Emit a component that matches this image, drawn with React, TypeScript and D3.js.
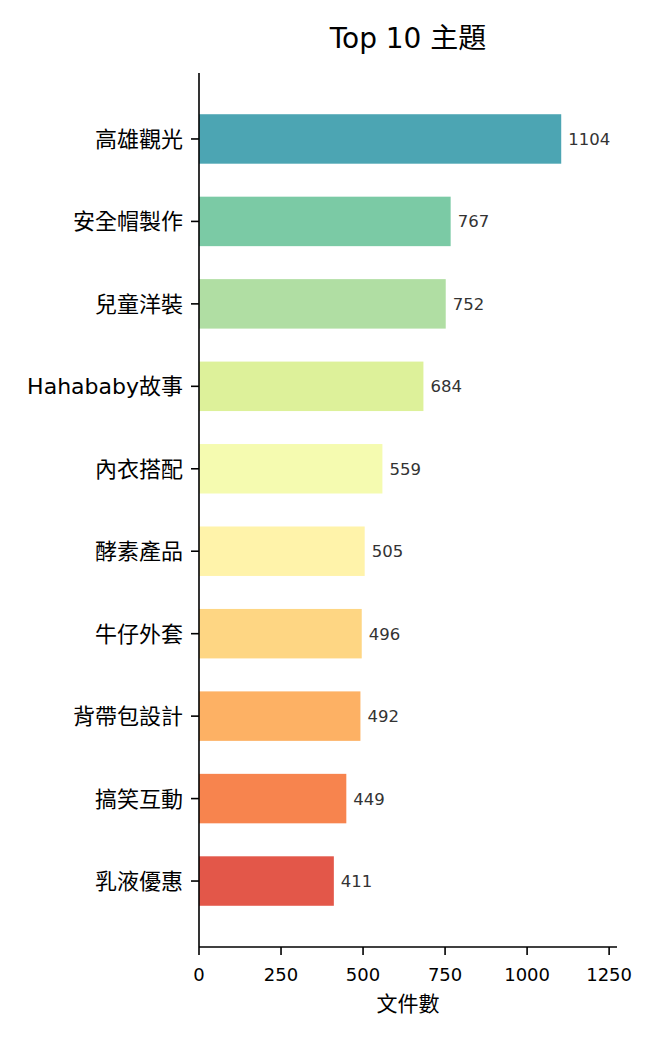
import React from "react";
import * as d3 from "d3";

const categories = ["高雄觀光", "安全帽製作", "兒童洋裝", "Hahababy故事", "內衣搭配", "酵素產品", "牛仔外套", "背帶包設計", "搞笑互動", "乳液優惠"];
const values = [1104, 767, 752, 684, 559, 505, 496, 492, 449, 411];
const barColors = ["#4ca5b3", "#7bcaa5", "#b0dea3", "#ddf19a", "#f5fbb0", "#fff3aa", "#fed683", "#fdb164", "#f7844e", "#e35749"];
const xTicks = [0, 250, 500, 750, 1000, 1250];
const title = "Top 10 主題";
const xLabel = "文件數";

const W = 657;
const H = 1040;
const FONT = "'DejaVu Sans', 'Noto Sans CJK TC', sans-serif";

export default function App() {
  const x = d3.scaleLinear().domain([0, 1274]).range([199, 617]);
  const y = d3.scaleLinear().domain([-0.8, 9.8]).range([73, 947]);
  const barH = y(0.6) - y(0);
  const x0 = x(0);
  const yBottom = y(9.8);
  const yTop = y(-0.8);

  return (
    <svg
      width={W}
      height={H}
      style={{ position: "absolute", left: 0, top: 0, background: "#fff" }}
      fontFamily={FONT}
    >
      <rect x={0} y={0} width={W} height={H} fill="#fff" />
      <text x={(x0 + x(1274)) / 2} y={48} textAnchor="middle" fontSize={28} fill="#000">
        {title}
      </text>
      {categories.map((c, i) => (
        <g key={c}>
          <rect
            x={x0}
            y={y(i) - barH / 2}
            width={x(values[i]) - x0}
            height={barH}
            fill={barColors[i]}
          />
          <text
            x={x(values[i]) + 7}
            y={y(i)}
            dy="0.36em"
            fontSize={16.5}
            fill="#333"
          >
            {values[i]}
          </text>
          <line x1={x0 - 8} x2={x0} y1={y(i)} y2={y(i)} stroke="#000" strokeWidth={1.6} />
          <text
            x={x0 - 16}
            y={y(i)}
            dy="0.36em"
            textAnchor="end"
            fontSize={22}
            fill="#000"
          >
            {c}
          </text>
        </g>
      ))}
      {xTicks.map((t) => (
        <g key={t}>
          <line x1={x(t)} x2={x(t)} y1={yBottom} y2={yBottom + 8} stroke="#000" strokeWidth={1.6} />
          <text x={x(t)} y={981} textAnchor="middle" fontSize={18} fill="#000">
            {t}
          </text>
        </g>
      ))}
      <line x1={x0} x2={x0} y1={yTop} y2={yBottom} stroke="#000" strokeWidth={1.6} />
      <line x1={x0} x2={x(1274)} y1={yBottom} y2={yBottom} stroke="#000" strokeWidth={1.6} />
      <text x={(x0 + x(1274)) / 2} y={1011} textAnchor="middle" fontSize={21} fill="#000">
        {xLabel}
      </text>
    </svg>
  );
}
